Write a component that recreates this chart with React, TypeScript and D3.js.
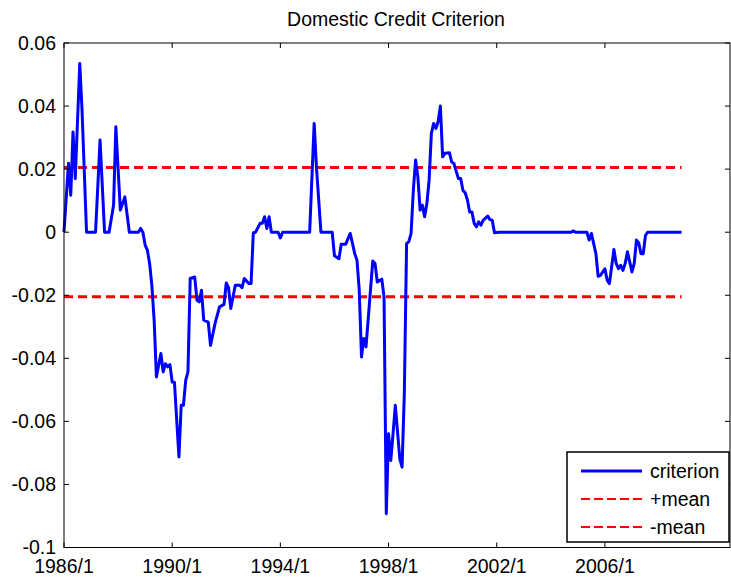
import * as d3 from "d3";

// monthly index from 1986/1, only the months where the line turns
const months = [
  0, 2, 3, 4, 5, 7, 8, 10, 14, 16, 18, 20, 22, 23, 25, 27, 29, 33, 34, 35,
  36, 37, 38, 39, 40, 41, 43, 44, 45, 46, 47, 48, 49, 51, 52, 53, 54, 55, 56, 58,
  59, 60, 61, 62, 64, 65, 67, 69, 71, 72, 73, 74, 76, 78, 79, 80, 82, 83, 84, 85,
  87, 88, 89, 90, 91, 92, 95, 96, 97, 109, 111, 112, 114, 119, 120, 122, 123, 125, 127, 129,
  130, 131, 132, 133, 134, 137, 138, 139, 141, 142, 143, 144, 145, 146, 147, 149, 150, 151, 152, 153,
  154, 155, 156, 157, 158, 159, 160, 161, 162, 163, 164, 165, 166, 167, 168, 169, 171, 172, 173, 175,
  176, 177, 178, 179, 180, 181, 182, 183, 184, 185, 186, 188, 189, 190, 191, 193, 225, 226, 227, 232,
  233, 234, 236, 237, 238, 240, 241, 242, 244, 245, 246, 247, 248, 249, 250, 252, 253, 254, 255, 256,
  257, 258, 259, 274,
];
const criterion = [
  0, 0.0219, 0.0117, 0.0318, 0.017, 0.0535, 0.0387, 0, 0, 0.0292, 0, 0, 0.0086, 0.0334, 0.007, 0.0112, 0, 0, 0.0012, 0,
  -0.0041, -0.0057, -0.01, -0.017, -0.028, -0.0459, -0.0385, -0.0443, -0.0417, -0.0427, -0.042, -0.0475, -0.0476, -0.0713, -0.0549, -0.0549, -0.047, -0.0443, -0.0147, -0.0142,
  -0.0216, -0.0221, -0.0184, -0.0279, -0.0285, -0.0359, -0.029, -0.0237, -0.0229, -0.0161, -0.0176, -0.0242, -0.0168, -0.0168, -0.0176, -0.0147, -0.0163, -0.0163, -0.0002, 0,
  0.0028, 0.0028, 0.0049, 0.0012, 0.0049, 0, 0, -0.0018, 0, 0, 0.0345, 0.0207, 0, 0, -0.0075, -0.0084, -0.0038, -0.0038, -0.0004, -0.0068,
  -0.0089, -0.0184, -0.0396, -0.0337, -0.0364, -0.0091, -0.0099, -0.0158, -0.0149, -0.0205, -0.0893, -0.0639, -0.0724, -0.0639, -0.0549, -0.0719, -0.0745, -0.0512, -0.0036, -0.003,
  -0.0004, 0.0133, 0.0229, 0.0176, 0.007, 0.0086, 0.0049, 0.0091, 0.0165, 0.0313, 0.0345, 0.0329, 0.035, 0.04, 0.0239, 0.025, 0.0252, 0.0223, 0.0218, 0.017,
  0.017, 0.0133, 0.0125, 0.0102, 0.0064, 0.0064, 0.0028, 0.0017, 0.0033, 0.0022, 0.0038, 0.0051, 0.004, 0.0038, -0.0002, 0, 0, 0.0004, 0, 0,
  -0.0025, -0.0004, -0.0068, -0.014, -0.0137, -0.0116, -0.0152, -0.0163, -0.0055, -0.0099, -0.0116, -0.0105, -0.0121, -0.0099, -0.0062, -0.0126, -0.0099, -0.0025, -0.0034, -0.0068,
  -0.0068, -0.001, 0, 0,
];
const meanLevel = 0.0205;

const xTickMonths = [0, 48, 96, 144, 192, 240];
const xTickLabels = ["1986/1", "1990/1", "1994/1", "1998/1", "2002/1", "2006/1"];
const yTicks = [-0.1, -0.08, -0.06, -0.04, -0.02, 0, 0.02, 0.04, 0.06];
const yTickLabels = ["-0.1", "-0.08", "-0.06", "-0.04", "-0.02", "0", "0.02", "0.04", "0.06"];

const legendItems = [
  { label: "criterion", color: "#0000ff", dash: "" },
  { label: "+mean", color: "#ff0000", dash: "9,4" },
  { label: "-mean", color: "#ff0000", dash: "9,4" },
];

export default function App() {
  const W = 731, H = 578;
  const left = 64, right = 730, top = 43, bottom = 547.5;
  const font = "'Liberation Sans', Arial, sans-serif";
  const fs = 19.5;

  const x = d3.scaleLinear().domain([0, 295.5]).range([left, right]);
  const y = d3.scaleLinear().domain([-0.1, 0.06]).range([bottom, top]);

  const pts = months.map((m, i) => ({ m, v: criterion[i] }));
  const line = d3.line<{ m: number; v: number }>().x(d => x(d.m)).y(d => y(d.v));
  const lastMonth = months[months.length - 1];

  const tickLen = 5;

  return (
    <svg width={W} height={H} style={{ position: "absolute", left: 0, top: 0, background: "#fff" }}>
      <rect x={0} y={0} width={W} height={H} fill="#fff" />
      <text x={396} y={26} textAnchor="middle" fontFamily={font} fontSize={fs} fill="#000">
        Domestic Credit Criterion
      </text>

      {/* mean bands */}
      {[meanLevel, -meanLevel].map((lv, i) => (
        <line key={i} x1={x(0)} x2={x(lastMonth)} y1={y(lv)} y2={y(lv)}
          stroke="#ff0000" strokeWidth={3} strokeDasharray="9,5" />
      ))}

      <path d={line(pts) ?? ""} fill="none" stroke="#0000ff" strokeWidth={3} strokeLinejoin="round" />

      {/* axes box */}
      <rect x={left} y={top} width={right - left} height={bottom - top} fill="none" stroke="#000" strokeWidth={1} />

      {xTickMonths.map((m, i) => (
        <g key={m}>
          <line x1={x(m)} x2={x(m)} y1={bottom} y2={bottom - tickLen} stroke="#000" />
          <line x1={x(m)} x2={x(m)} y1={top} y2={top + tickLen} stroke="#000" />
          <text x={x(m)} y={573} textAnchor="middle" fontFamily={font} fontSize={fs} fill="#000">
            {xTickLabels[i]}
          </text>
        </g>
      ))}

      {yTicks.map((v, i) => (
        <g key={v}>
          <line x1={left} x2={left + tickLen} y1={y(v)} y2={y(v)} stroke="#000" />
          <line x1={right} x2={right - tickLen} y1={y(v)} y2={y(v)} stroke="#000" />
          <text x={left - 8} y={y(v)} dy="0.35em" textAnchor="end" fontFamily={font} fontSize={fs} fill="#000">
            {yTickLabels[i]}
          </text>
        </g>
      ))}

      {/* legend */}
      <g>
        <rect x={567} y={452} width={162} height={90} fill="#fff" stroke="#000" strokeWidth={1.5} />
        {legendItems.map((d, i) => (
          <g key={d.label}>
            <line x1={581} x2={642} y1={471 + i * 28} y2={471 + i * 28}
              stroke={d.color} strokeWidth={d.dash ? 2 : 3} strokeDasharray={d.dash || undefined} />
            <text x={650} y={471 + i * 28} dy="0.35em" fontFamily={font} fontSize={fs} fill="#000">
              {d.label}
            </text>
          </g>
        ))}
      </g>
    </svg>
  );
}
